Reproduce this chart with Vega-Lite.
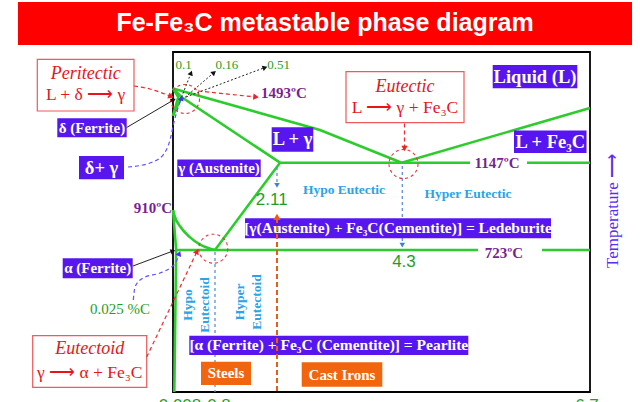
{
  "$schema": "https://vega.github.io/schema/vega-lite/v6.json",
  "width": 417,
  "height": 340,
  "autosize": {"type": "none"},
  "padding": {"left": 173, "top": 52, "right": 50, "bottom": 10},
  "background": "white",
  "config": {"view": {"stroke": "#000000", "strokeWidth": 1.8}},
  "datasets": {
    "banner": [{"carbon": -2.9524, "carbon2": 7.2354, "temp": 1993.3, "temp2": 1766.9}],
    "phaseLines": [
      {"id": "AC", "seq": 1, "carbon": 0, "temp": 1538},
      {"id": "AC", "seq": 2, "carbon": 2.83, "temp": 1319},
      {"id": "AC", "seq": 3, "carbon": 4.3, "temp": 1147},
      {"id": "CD", "seq": 1, "carbon": 4.3, "temp": 1147},
      {"id": "CD", "seq": 2, "carbon": 6.7, "temp": 1435},
      {"id": "AJE", "seq": 1, "carbon": 0, "temp": 1538},
      {"id": "AJE", "seq": 2, "carbon": 0.16, "temp": 1493},
      {"id": "AJE", "seq": 3, "carbon": 2.11, "temp": 1147},
      {"id": "AHN", "seq": 1, "carbon": 0, "temp": 1538},
      {"id": "AHN", "seq": 2, "carbon": 0.1, "temp": 1493},
      {"id": "AHN", "seq": 3, "carbon": 0, "temp": 1394},
      {"id": "JN", "seq": 1, "carbon": 0.16, "temp": 1493},
      {"id": "JN", "seq": 2, "carbon": 0, "temp": 1394},
      {"id": "EF", "seq": 1, "carbon": 2.11, "temp": 1147},
      {"id": "EF", "seq": 2, "carbon": 6.7, "temp": 1147},
      {"id": "SE", "seq": 1, "carbon": 0.8, "temp": 723},
      {"id": "SE", "seq": 2, "carbon": 2.11, "temp": 1147},
      {"id": "GP", "seq": 1, "carbon": 0, "temp": 910},
      {"id": "GP", "seq": 2, "carbon": 0.06, "temp": 723},
      {"id": "PQ", "seq": 1, "carbon": 0.06, "temp": 723},
      {"id": "PQ", "seq": 2, "carbon": 0.025, "temp": 50},
      {"id": "PK", "seq": 1, "carbon": 0.06, "temp": 723},
      {"id": "PK", "seq": 2, "carbon": 6.7, "temp": 723}
    ],
    "phaseCurve": [
      {"id": "GS", "seq": 1, "carbon": 0, "temp": 910},
      {"id": "GS", "seq": 2, "carbon": 0.04, "temp": 875},
      {"id": "GS", "seq": 3, "carbon": 0.13, "temp": 835},
      {"id": "GS", "seq": 4, "carbon": 0.32, "temp": 783},
      {"id": "GS", "seq": 5, "carbon": 0.51, "temp": 749},
      {"id": "GS", "seq": 6, "carbon": 0.8, "temp": 723}
    ],
    "labelGaps": [
      {"carbon": 5.1706, "carbon2": 5.897, "temp": 1187.5, "temp2": 1115.4},
      {"carbon": 5.2725, "carbon2": 6.0883, "temp": 741.7, "temp2": 675.6}
    ],
    "guideLines": [
      {"id": "v08", "seq": 1, "carbon": 0.8, "temp": 713.5},
      {"id": "v08", "seq": 2, "carbon": 0.8, "temp": 50},
      {"id": "v211", "seq": 1, "carbon": 2.0495, "temp": 1125.5},
      {"id": "v211", "seq": 2, "carbon": 2.0495, "temp": 1030.3},
      {"id": "v43", "seq": 1, "carbon": 4.3076, "temp": 1130.5},
      {"id": "v43", "seq": 2, "carbon": 4.3076, "temp": 741.7}
    ],
    "guideHeads": [
      {"carbon": 2.0495, "temp": 1033, "heading": 90},
      {"carbon": 4.3076, "temp": 746, "heading": 90}
    ],
    "blueBoxes": [
      {"label": "δ (Ferrite)", "carbon": -2.2039, "carbon2": -0.8819, "temp": 1380.8, "temp2": 1280.8},
      {"label": "δ+ γ", "carbon": -1.7905, "carbon2": -0.9333, "temp": 1182.3, "temp2": 1063.8},
      {"label": "γ (Austenite)", "carbon": 0.0819, "carbon2": 1.721, "temp": 1163.9, "temp2": 1075.3},
      {"label": "L + γ", "carbon": 1.9427, "carbon2": 2.7092, "temp": 1333.4, "temp2": 1204.9},
      {"label": "Liquid (L)", "carbon": 5.4599, "carbon2": 6.5382, "temp": 1661.5, "temp2": 1538.8},
      {"label": "L + Fe3C", "carbon": 5.7314, "carbon2": 6.6555, "temp": 1316.6, "temp2": 1198.1},
      {"label": "Ledeburite", "carbon": 1.4046, "carbon2": 6.203, "temp": 871.2, "temp2": 777.7},
      {"label": "α (Ferrite)", "carbon": -2.101, "carbon2": -0.7676, "temp": 683.7, "temp2": 588.9},
      {"label": "Pearlite", "carbon": 0.3105, "carbon2": 5.1489, "temp": 316.8, "temp2": 225.4}
    ],
    "orangeBoxes": [
      {"label": "Steels", "carbon": 0.5333, "carbon2": 1.5255, "temp": 193.6, "temp2": 83.2},
      {"label": "Cast Irons", "carbon": 2.5005, "carbon2": 3.9509, "temp": 190.8, "temp2": 75.1}
    ],
    "redBoxes": [
      {"label": "Peritectic", "carbon": -2.5848, "carbon2": -0.7429, "temp": 1691.6, "temp2": 1419.3},
      {"label": "Eutectic", "carbon": 3.2977, "carbon2": 5.0941, "temp": 1626.3, "temp2": 1357.7},
      {"label": "Eutectoid", "carbon": -2.6725, "carbon2": -0.501, "temp": 316.8, "temp2": 72.3}
    ],
    "redArrows": [
      {"id": "peri", "seq": 1, "carbon": -0.7429, "temp": 1550.9},
      {"id": "peri", "seq": 2, "carbon": -0.4381, "temp": 1535.1},
      {"id": "peri", "seq": 3, "carbon": -0.0381, "temp": 1495.6},
      {"id": "t1493", "seq": 1, "carbon": 0.4762, "temp": 1524.6},
      {"id": "t1493", "seq": 2, "carbon": 1.6263, "temp": 1493},
      {"id": "eut", "seq": 1, "carbon": 4.3357, "temp": 1353.4},
      {"id": "eut", "seq": 2, "carbon": 4.3357, "temp": 1219.1},
      {"id": "eud", "seq": 1, "carbon": -0.501, "temp": 215.9},
      {"id": "eud", "seq": 2, "carbon": 0.4571, "temp": 715.9}
    ],
    "redHeads": [
      {"carbon": -0.0381, "temp": 1495.6, "heading": 20},
      {"carbon": 1.6263, "temp": 1493, "heading": 6},
      {"carbon": 4.3357, "temp": 1222, "heading": 90},
      {"carbon": 0.4571, "temp": 715.9, "heading": -64.5}
    ],
    "circles": [
      {"carbon": 0.2286, "temp": 1482.5},
      {"carbon": 4.3229, "temp": 1140.5},
      {"carbon": 0.7676, "temp": 729.1}
    ],
    "blackDotted": [
      {"id": "c1", "seq": 1, "carbon": 0.1333, "temp": 1471.9},
      {"id": "c1", "seq": 2, "carbon": 0.3429, "temp": 1619.4},
      {"id": "c2", "seq": 1, "carbon": 0.1714, "temp": 1477.2},
      {"id": "c2", "seq": 2, "carbon": 0.781, "temp": 1622},
      {"id": "c3", "seq": 1, "carbon": 0.2476, "temp": 1493},
      {"id": "c3", "seq": 2, "carbon": 1.8077, "temp": 1648.4}
    ],
    "blackSolid": [
      {"id": "delta", "seq": 1, "carbon": -0.8819, "temp": 1332.4},
      {"id": "delta", "seq": 2, "carbon": 0.0095, "temp": 1477.2},
      {"id": "alpha", "seq": 1, "carbon": -0.7619, "temp": 647.2},
      {"id": "alpha", "seq": 2, "carbon": 0, "temp": 718.3}
    ],
    "blackHeads": [
      {"carbon": 0.3429, "temp": 1619.4, "heading": -68.6},
      {"carbon": 0.781, "temp": 1622, "heading": -40.7},
      {"carbon": 1.8077, "temp": 1648.4, "heading": -20.5},
      {"carbon": 0.0095, "temp": 1477.2, "heading": -30.4},
      {"carbon": 0, "temp": 718.3, "heading": -20.6}
    ],
    "violetArrows": [
      {"id": "dg", "seq": 1, "carbon": -0.8571, "temp": 1125.5},
      {"id": "dg", "seq": 2, "carbon": -0.4381, "temp": 1145.5},
      {"id": "dg", "seq": 3, "carbon": -0.1905, "temp": 1187.5},
      {"id": "dg", "seq": 4, "carbon": -0.0571, "temp": 1266.5},
      {"id": "dg", "seq": 5, "carbon": 0.019, "temp": 1361.3},
      {"id": "dg", "seq": 6, "carbon": 0.0952, "temp": 1435.1},
      {"id": "dg", "seq": 7, "carbon": 0.1619, "temp": 1487.7},
      {"id": "c025", "seq": 1, "carbon": -0.7562, "temp": 486},
      {"id": "c025", "seq": 2, "carbon": -0.7238, "temp": 547.6},
      {"id": "c025", "seq": 3, "carbon": -0.5714, "temp": 590.3},
      {"id": "c025", "seq": 4, "carbon": -0.2476, "temp": 614},
      {"id": "c025", "seq": 5, "carbon": -0.0571, "temp": 637.7},
      {"id": "c025", "seq": 6, "carbon": 0.0571, "temp": 666.1},
      {"id": "c025", "seq": 7, "carbon": 0.12, "temp": 706.4}
    ],
    "violetHeads": [
      {"carbon": 0.1619, "temp": 1487.7, "heading": -70.7},
      {"carbon": 0.12, "temp": 706.4, "heading": -68.8}
    ],
    "orangeArrow": [
      {"id": "o", "seq": 1, "carbon": 2.0495, "temp": 54.7},
      {"id": "o", "seq": 2, "carbon": 2.0495, "temp": 881.95}
    ],
    "orangeHeads": [
      {"carbon": 2.0495, "temp": 878, "heading": -90}
    ],
    "boxText15": [
      {"label": "δ (Ferrite)", "carbon": -1.5429, "temp": 1330.8},
      {"label": "γ (Austenite)", "carbon": 0.8806, "temp": 1118.9},
      {"label": "α (Ferrite)", "carbon": -1.4343, "temp": 636.3},
      {"label": "Steels", "carbon": 1.0217, "temp": 138.6},
      {"label": "Cast Irons", "carbon": 3.2257, "temp": 132.9}
    ],
    "boxText16": [
      {"label": "[γ(Austenite) + Fe₃C(Cementite)] = Ledeburite", "carbon": 4.2334, "temp": 824.4},
      {"label": "[α (Ferrite) + Fe₃C (Cementite)] = Pearlite", "carbon": 2.9882, "temp": 271.3}
    ],
    "boxText18": [
      {"label": "δ+ γ", "carbon": -1.3619, "temp": 1121.9},
      {"label": "L + γ", "carbon": 2.335, "temp": 1269.2},
      {"label": "Liquid (L)", "carbon": 5.999, "temp": 1599.9},
      {"label": "L + Fe₃C", "carbon": 6.194, "temp": 1257.6}
    ],
    "redItalic": [
      {"label": "Peritectic", "carbon": -1.6639, "temp": 1612},
      {"label": "Eutectic", "carbon": 4.342, "temp": 1546},
      {"label": "Eutectoid", "carbon": -1.5867, "temp": 252}
    ],
    "redRegular": [
      {"label": "L + δ ⟶ γ", "carbon": -1.6639, "temp": 1505},
      {"label": "L ⟶ γ + Fe₃C", "carbon": 4.342, "temp": 1437},
      {"label": "γ ⟶ α + Fe₃C", "carbon": -1.5867, "temp": 142}
    ],
    "tempLabels": [
      {"label": "1493ºC", "carbon": 2.182, "temp": 1514.1},
      {"label": "1147ºC", "carbon": 5.5147, "temp": 1147},
      {"label": "723ºC", "carbon": 5.604, "temp": 709},
      {"label": "910ºC", "carbon": -0.381, "temp": 920}
    ],
    "greenSans": [
      {"label": "2.11", "carbon": 1.9427, "temp": 960.1},
      {"label": "4.3", "carbon": 4.329, "temp": 666.1}
    ],
    "greenBottom": [
      {"label": "0.008", "carbon": 0.1333, "temp": -15.7},
      {"label": "0.8", "carbon": 0.8806, "temp": -15.7},
      {"label": "6.7", "carbon": 6.6618, "temp": -15.7}
    ],
    "greenSerifSmall": [
      {"label": "0.1", "carbon": 0.2, "temp": 1661.5},
      {"label": "0.16", "carbon": 1.0418, "temp": 1661.5},
      {"label": "0.51", "carbon": 2.0798, "temp": 1661.5}
    ],
    "greenSerif": [
      {"label": "0.025 %C", "carbon": -1.0095, "temp": 445.7}
    ],
    "cyanText": [
      {"label": "Hypo Eutectic", "carbon": 3.2617, "temp": 1010.2},
      {"label": "Hyper Eutectic", "carbon": 5.1451, "temp": 990.2}
    ],
    "cyanRotated": [
      {"label": "Hypo\nEutectoid", "carbon": 0.2914, "temp": 462.3},
      {"label": "Hyper\nEutectoid", "carbon": 1.3099, "temp": 476.6}
    ],
    "titleText": [
      {"label": "Fe-Fe₃C metastable phase diagram", "carbon": 2.9198, "temp": 1882.7}
    ],
    "axisTitle": [
      {"label": "Temperature  ⟶", "carbon": 6.9933, "temp": 905.3}
    ]
  },
  "encoding": {
    "x": {"field": "carbon", "type": "quantitative", "axis": null,
          "scale": {"type": "linear", "domain": [0, 0.8, 2.11, 4.3, 6.7], "range": [0, 42, 107, 228.7, 417], "nice": false, "zero": false}},
    "y": {"field": "temp", "type": "quantitative", "axis": null,
          "scale": {"type": "linear", "domain": [50, 723, 910, 1147, 1730], "range": [340, 198, 158, 110.7, 0], "nice": false, "zero": false}}
  },
  "layer": [
    {"data": {"name": "banner"}, "mark": {"type": "rect", "fill": "#ff0000"},
     "encoding": {"x2": {"field": "carbon2"}, "y2": {"field": "temp2"}}},
    {"data": {"name": "phaseLines"}, "mark": {"type": "line", "color": "#2dcc2d", "strokeWidth": 2.6},
     "encoding": {"detail": {"field": "id"}, "order": {"field": "seq", "type": "quantitative"}}},
    {"data": {"name": "phaseCurve"}, "mark": {"type": "line", "color": "#2dcc2d", "strokeWidth": 2.6, "interpolate": "monotone"},
     "encoding": {"detail": {"field": "id"}, "order": {"field": "seq", "type": "quantitative"}}},
    {"data": {"name": "labelGaps"}, "mark": {"type": "rect", "fill": "#ffffff"},
     "encoding": {"x2": {"field": "carbon2"}, "y2": {"field": "temp2"}}},
    {"data": {"name": "guideLines"}, "mark": {"type": "line", "color": "#5b8fe0", "strokeWidth": 1.3, "strokeDash": [3, 3]},
     "encoding": {"detail": {"field": "id"}, "order": {"field": "seq", "type": "quantitative"}}},
    {"data": {"name": "guideHeads"}, "mark": {"type": "point", "shape": "triangle-right", "filled": true, "color": "#3f7fd8", "size": 30, "opacity": 1},
     "encoding": {"angle": {"field": "heading", "type": "quantitative", "scale": null}}},
    {"data": {"name": "blueBoxes"}, "mark": {"type": "rect", "fill": "#5716ef"},
     "encoding": {"x2": {"field": "carbon2"}, "y2": {"field": "temp2"}}},
    {"data": {"name": "orangeBoxes"}, "mark": {"type": "rect", "fill": "#f2650f"},
     "encoding": {"x2": {"field": "carbon2"}, "y2": {"field": "temp2"}}},
    {"data": {"name": "redBoxes"}, "mark": {"type": "rect", "fill": "#ffffff", "stroke": "#f05a5a", "strokeWidth": 1.2},
     "encoding": {"x2": {"field": "carbon2"}, "y2": {"field": "temp2"}}},
    {"data": {"name": "redArrows"}, "mark": {"type": "line", "color": "#ee2a2a", "strokeWidth": 1.2, "strokeDash": [4, 3], "interpolate": "monotone"},
     "encoding": {"detail": {"field": "id"}, "order": {"field": "seq", "type": "quantitative"}}},
    {"data": {"name": "circles"}, "mark": {"type": "point", "shape": "circle", "filled": false, "color": "#ee3333", "size": 841, "strokeWidth": 1.1, "strokeDash": [3, 3], "opacity": 1}},
    {"data": {"name": "blackDotted"}, "mark": {"type": "line", "color": "#222222", "strokeWidth": 1, "strokeDash": [2, 2]},
     "encoding": {"detail": {"field": "id"}, "order": {"field": "seq", "type": "quantitative"}}},
    {"data": {"name": "blackSolid"}, "mark": {"type": "line", "color": "#222222", "strokeWidth": 1},
     "encoding": {"detail": {"field": "id"}, "order": {"field": "seq", "type": "quantitative"}}},
    {"data": {"name": "violetArrows"}, "mark": {"type": "line", "color": "#6a4cff", "strokeWidth": 1.2, "strokeDash": [4, 3], "interpolate": "monotone"},
     "encoding": {"detail": {"field": "id"}, "order": {"field": "seq", "type": "quantitative"}}},
    {"data": {"name": "orangeArrow"}, "mark": {"type": "line", "color": "#ee5a10", "strokeWidth": 2, "strokeDash": [5, 3]},
     "encoding": {"detail": {"field": "id"}, "order": {"field": "seq", "type": "quantitative"}}},
    {"data": {"name": "redHeads"}, "mark": {"type": "point", "shape": "triangle-right", "filled": true, "color": "#ee2222", "size": 40, "opacity": 1},
     "encoding": {"angle": {"field": "heading", "type": "quantitative", "scale": null}}},
    {"data": {"name": "blackHeads"}, "mark": {"type": "point", "shape": "triangle-right", "filled": true, "color": "#111111", "size": 32, "opacity": 1},
     "encoding": {"angle": {"field": "heading", "type": "quantitative", "scale": null}}},
    {"data": {"name": "violetHeads"}, "mark": {"type": "point", "shape": "triangle-right", "filled": true, "color": "#4a2cff", "size": 36, "opacity": 1},
     "encoding": {"angle": {"field": "heading", "type": "quantitative", "scale": null}}},
    {"data": {"name": "orangeHeads"}, "mark": {"type": "point", "shape": "triangle-right", "filled": true, "color": "#ee5a10", "size": 55, "opacity": 1},
     "encoding": {"angle": {"field": "heading", "type": "quantitative", "scale": null}}},
    {"data": {"name": "boxText15"}, "mark": {"type": "text", "font": "Liberation Serif", "fontWeight": "bold", "fontSize": 15, "color": "#ffffff"},
     "encoding": {"text": {"field": "label"}}},
    {"data": {"name": "boxText16"}, "mark": {"type": "text", "font": "Liberation Serif", "fontWeight": "bold", "fontSize": 15.5, "color": "#ffffff"},
     "encoding": {"text": {"field": "label"}}},
    {"data": {"name": "boxText18"}, "mark": {"type": "text", "font": "Liberation Serif", "fontWeight": "bold", "fontSize": 18.5, "color": "#ffffff"},
     "encoding": {"text": {"field": "label"}}},
    {"data": {"name": "redItalic"}, "mark": {"type": "text", "font": "Liberation Serif", "fontStyle": "italic", "fontSize": 18, "color": "#e8141a"},
     "encoding": {"text": {"field": "label"}}},
    {"data": {"name": "redRegular"}, "mark": {"type": "text", "font": "Liberation Serif", "fontSize": 17.5, "color": "#e8141a"},
     "encoding": {"text": {"field": "label"}}},
    {"data": {"name": "tempLabels"}, "mark": {"type": "text", "font": "Liberation Serif", "fontWeight": "bold", "fontSize": 15, "color": "#7a1f93"},
     "encoding": {"text": {"field": "label"}}},
    {"data": {"name": "greenSans"}, "mark": {"type": "text", "font": "Liberation Sans", "fontSize": 17, "color": "#1f9e1f"},
     "encoding": {"text": {"field": "label"}}},
    {"data": {"name": "greenBottom"}, "mark": {"type": "text", "font": "Liberation Sans", "fontSize": 17, "color": "#1f9e1f"},
     "encoding": {"text": {"field": "label"}}},
    {"data": {"name": "greenSerifSmall"}, "mark": {"type": "text", "font": "Liberation Serif", "fontSize": 13, "color": "#1f9e1f"},
     "encoding": {"text": {"field": "label"}}},
    {"data": {"name": "greenSerif"}, "mark": {"type": "text", "font": "Liberation Serif", "fontSize": 15, "color": "#1f9e1f"},
     "encoding": {"text": {"field": "label"}}},
    {"data": {"name": "cyanText"}, "mark": {"type": "text", "font": "Liberation Serif", "fontWeight": "bold", "fontSize": 13.5, "color": "#2aa3ea"},
     "encoding": {"text": {"field": "label"}}},
    {"data": {"name": "cyanRotated"}, "mark": {"type": "text", "font": "Liberation Serif", "fontWeight": "bold", "fontSize": 13.5, "color": "#2aa3ea", "angle": 270, "lineBreak": "\n", "lineHeight": 16.7},
     "encoding": {"text": {"field": "label"}}},
    {"data": {"name": "titleText"}, "mark": {"type": "text", "font": "Liberation Sans", "fontWeight": "bold", "fontSize": 25, "color": "#ffffff"},
     "encoding": {"text": {"field": "label"}}},
    {"data": {"name": "axisTitle"}, "mark": {"type": "text", "font": "Liberation Serif", "fontSize": 17, "color": "#5a2cf0", "angle": 270},
     "encoding": {"text": {"field": "label"}}}
  ]
}
